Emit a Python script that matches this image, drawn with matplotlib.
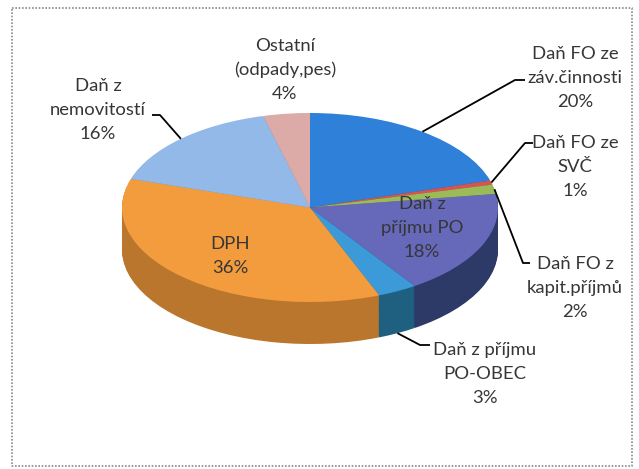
# plot.py
# 3D-style pie chart of municipal tax income (recreated with matplotlib)

import matplotlib
matplotlib.use("Agg")
import matplotlib.pyplot as plt
import numpy as np

# Data
labels = ["Daň FO ze\nzáv.činnosti", "Daň FO ze\nSVČ", "Daň FO z\nkapit.příjmů",
          "Daň z\npříjmu PO", "Daň z příjmu\nPO-OBEC", "DPH",
          "Daň z\nnemovitostí", "Ostatní\n(odpady,pes)"]
values = [20.4, 0.7, 1.6, 17.9, 3.4, 35.9, 16.1, 4.0]

# Styles
top_colors = ["#2f80d8", "#d9534f", "#9bbb59", "#6668ba",
              "#3d9ad8", "#f39c3e", "#93b9e8", "#dcaaa7"]
side_colors = ["#1f5a9a", "#9a3a38", "#6d8a3a", "#2d3a68",
               "#1f5f80", "#bb762e", "#6a8cb8", "#a87c7a"]

W, H = 639, 469
fig = plt.figure(figsize=(W / 100, H / 100), dpi=100)

# pie geometry in pixels
left, right, top, face_bottom, depth = 122, 498, 113, 302, 42
D = 2 * depth / (face_bottom - top)

pie_ax = fig.add_axes([left / W, (H - face_bottom - depth) / H,
                       (right - left) / W, (face_bottom + depth - top) / H])

# side wall: stack of darker pies
n_layers = 45
for i in range(n_layers):
    off = -D * (1 - i / n_layers)
    pie_ax.pie(values, colors=side_colors, startangle=90, counterclock=False,
               center=(0, off), wedgeprops=dict(linewidth=0))
# top face
pie_ax.pie(values, colors=top_colors, startangle=90, counterclock=False,
           wedgeprops=dict(linewidth=0))
pie_ax.set_aspect("auto")
pie_ax.set_xlim(-1, 1)
pie_ax.set_ylim(-1 - D, 1)
pie_ax.axis("off")

# overlay in pixel coordinates for text, leader lines and border
ov = fig.add_axes([0, 0, 1, 1], zorder=3)
ov.set_xlim(0, W)
ov.set_ylim(H, 0)
ov.axis("off")
ov.patch.set_alpha(0)

ov.plot([12, 632, 632, 12, 12], [8, 8, 466, 466, 8], color="#8a8a8a",
        lw=1.2, ls=(0, (1, 1)))

font = dict(family=["Lato", "DejaVu Sans"], fontsize=13.3, color="#363636",
            ha="center", va="center", linespacing=1.6)

pct = np.array(values) / sum(values) * 100
cum = np.concatenate([[0], np.cumsum(pct)])
mids = (cum[:-1] + cum[1:]) / 2


def to_px(x, y):
    disp = pie_ax.transData.transform((x, y))
    return ov.transData.inverted().transform(disp)


# text position, elbow, end of horizontal stub, anchor on wall bottom?
label_pos = {
    0: ((575, 78), (515, 80), (525, 80), False),
    1: ((575, 167), (525, 143), (533, 143), False),
    2: ((575, 288), (523, 263), (530, 263), False),
    4: ((485, 374), (420, 345), (430, 345), True),
    6: ((98, 110), (160, 115), (152, 115), False),
    7: ((285, 70), None, None, False),
}
inside_pos = {3: (422, 228), 5: (230, 256)}

for i, lab in enumerate(labels):
    txt = f"{lab}\n{pct[i]:.0f}%"
    if i in inside_pos:
        x, y = inside_pos[i]
        ov.text(x, y, txt, **font)
        continue
    (tx, ty), elbow, stub, on_wall = label_pos[i]
    ov.text(tx, ty, txt, **font)
    if elbow is None:
        continue
    ang = np.deg2rad(mids[i] * 3.6)
    ax_x, ax_y = np.sin(ang), np.cos(ang)
    if on_wall:
        ax_y -= D
    px, py = to_px(ax_x, ax_y)
    ov.plot([px, elbow[0], stub[0]], [py, elbow[1], stub[1]],
            color="black", lw=1.3, solid_capstyle="butt")

fig.savefig("out.png", dpi=100)
